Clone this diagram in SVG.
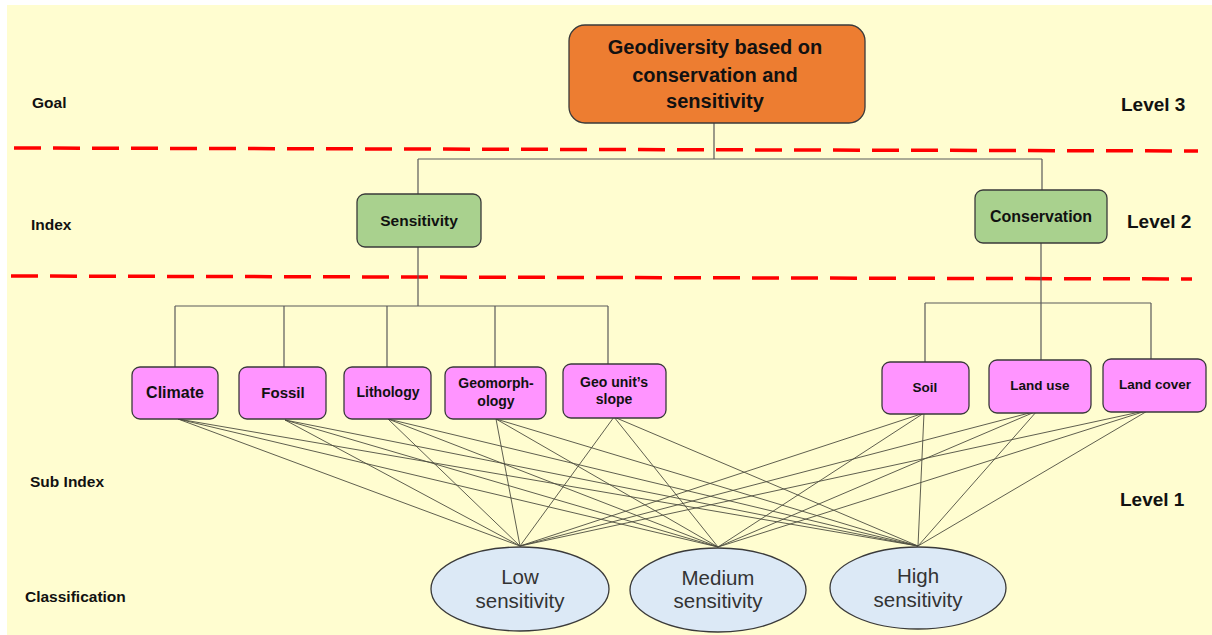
<svg xmlns="http://www.w3.org/2000/svg" width="1212" height="635" viewBox="0 0 1212 635">
<style>
.lbl{font-family:"Liberation Sans",Arial,sans-serif;font-weight:bold;fill:#111;}
.side{font-size:15.5px;}
.lvl{font-size:19px;}
.bt{font-family:"Liberation Sans",Arial,sans-serif;font-weight:bold;fill:#111;text-anchor:middle;}
.et{font-family:"Liberation Sans",Arial,sans-serif;font-size:20.5px;fill:#333;text-anchor:middle;}
.box{stroke:#3a3a3a;stroke-width:1.3;}
.pink{fill:#FF94FF;}
.green{fill:#A9D18E;}
.tree{fill:none;stroke:#5a5a5a;stroke-width:1.2;}
.diag{stroke:#4d4d40;stroke-width:0.9;}
.dash{stroke:#FF0000;stroke-width:3.5;stroke-dasharray:27 12;}
</style>
<rect x="0" y="0" width="1212" height="635" fill="#ffffff"/>
<rect x="7" y="5" width="1205" height="630" fill="#FFFDD0"/>

<g id="separators">
<line class="dash" x1="14" y1="148" x2="1198" y2="151"/>
<line class="dash" x1="11" y1="276" x2="1192" y2="279"/>
</g>

<g id="labels">
<text class="lbl side" x="32" y="108">Goal</text>
<text class="lbl side" x="31" y="230">Index</text>
<text class="lbl side" x="30" y="487">Sub Index</text>
<text class="lbl side" x="25" y="602">Classification</text>
<text class="lbl lvl" x="1121" y="111">Level 3</text>
<text class="lbl lvl" x="1127" y="228">Level 2</text>
<text class="lbl lvl" x="1120" y="506">Level 1</text>
</g>

<g id="connectors">
<path class="tree" d="M714 123V159M418 159H1042M418 159V194M1042 159V190"/>
<path class="tree" d="M418 247V306M175 306H608M175 306V367M284 306V367M387 306V367M495 306V367M608 306V364"/>
<path class="tree" d="M1041 243V303M925 303H1151M925 303V362M1041 303V360M1151 303V359"/>
<g class="diag">
<line x1="178" y1="419" x2="520" y2="546"/><line x1="178" y1="419" x2="718" y2="547"/><line x1="178" y1="419" x2="918" y2="546"/>
<line x1="285" y1="420" x2="520" y2="546"/><line x1="285" y1="420" x2="718" y2="547"/><line x1="285" y1="420" x2="918" y2="546"/>
<line x1="388" y1="419" x2="520" y2="546"/><line x1="388" y1="419" x2="718" y2="547"/><line x1="388" y1="419" x2="918" y2="546"/>
<line x1="496" y1="419" x2="520" y2="546"/><line x1="496" y1="419" x2="718" y2="547"/><line x1="496" y1="419" x2="918" y2="546"/>
<line x1="614" y1="417" x2="520" y2="546"/><line x1="614" y1="417" x2="718" y2="547"/><line x1="614" y1="417" x2="918" y2="546"/>
<line x1="924" y1="413" x2="520" y2="546"/><line x1="924" y1="413" x2="718" y2="547"/><line x1="924" y1="413" x2="918" y2="546"/>
<line x1="1037" y1="411" x2="520" y2="546"/><line x1="1037" y1="411" x2="718" y2="547"/><line x1="1037" y1="411" x2="918" y2="546"/>
<line x1="1149" y1="410" x2="520" y2="546"/><line x1="1149" y1="410" x2="718" y2="547"/><line x1="1149" y1="410" x2="918" y2="546"/>
</g>
</g>

<g id="goal">
<rect class="box" x="569" y="25" width="296" height="98" rx="16" fill="#ED7D31"/>
<text class="bt" x="715" y="54" font-size="20">Geodiversity based on</text>
<text class="bt" x="715" y="82" font-size="20">conservation and</text>
<text class="bt" x="715" y="108" font-size="20">sensitivity</text>
</g>

<g id="sensitivity">
<rect class="box green" x="357" y="194" width="124" height="53" rx="8"/>
<text class="bt" x="419" y="226" font-size="15.5">Sensitivity</text>
</g>
<g id="conservation">
<rect class="box green" x="975" y="190" width="132" height="53" rx="8"/>
<text class="bt" x="1041" y="222" font-size="16">Conservation</text>
</g>

<g id="climate">
<rect class="box pink" x="132" y="367" width="86" height="52" rx="8"/>
<text class="bt" x="175" y="398" font-size="16">Climate</text>
</g>
<g id="fossil">
<rect class="box pink" x="239" y="367" width="87" height="52" rx="8"/>
<text class="bt" x="283" y="398" font-size="15">Fossil</text>
</g>
<g id="lithology">
<rect class="box pink" x="344" y="367" width="87" height="52" rx="8"/>
<text class="bt" x="388" y="397" font-size="14">Lithology</text>
</g>
<g id="geomorphology">
<rect class="box pink" x="445" y="367" width="101" height="52" rx="8"/>
<text class="bt" x="496" y="388" font-size="14">Geomorph-</text>
<text class="bt" x="496" y="406" font-size="14">ology</text>
</g>
<g id="geo-unit-slope">
<rect class="box pink" x="563" y="364" width="103" height="54" rx="8"/>
<text class="bt" x="614" y="387" font-size="14">Geo unit’s</text>
<text class="bt" x="614" y="404" font-size="14">slope</text>
</g>
<g id="soil">
<rect class="box pink" x="882" y="362" width="87" height="52" rx="8"/>
<text class="bt" x="925" y="392" font-size="13.5">Soil</text>
</g>
<g id="land-use">
<rect class="box pink" x="989" y="360" width="102" height="53" rx="8"/>
<text class="bt" x="1040" y="390" font-size="13.5">Land use</text>
</g>
<g id="land-cover">
<rect class="box pink" x="1103" y="359" width="103" height="53" rx="8"/>
<text class="bt" x="1155" y="389" font-size="13.5">Land cover</text>
</g>

<g id="low">
<ellipse class="box" cx="520" cy="589" rx="89" ry="42" fill="#DCE9F6"/>
<text class="et" x="520" y="584">Low</text>
<text class="et" x="520" y="608">sensitivity</text>
</g>
<g id="medium">
<ellipse class="box" cx="718" cy="590" rx="88" ry="42" fill="#DCE9F6"/>
<text class="et" x="718" y="585">Medium</text>
<text class="et" x="718" y="608">sensitivity</text>
</g>
<g id="high">
<ellipse class="box" cx="918" cy="588" rx="88" ry="41" fill="#DCE9F6"/>
<text class="et" x="918" y="583">High</text>
<text class="et" x="918" y="607">sensitivity</text>
</g>
</svg>
